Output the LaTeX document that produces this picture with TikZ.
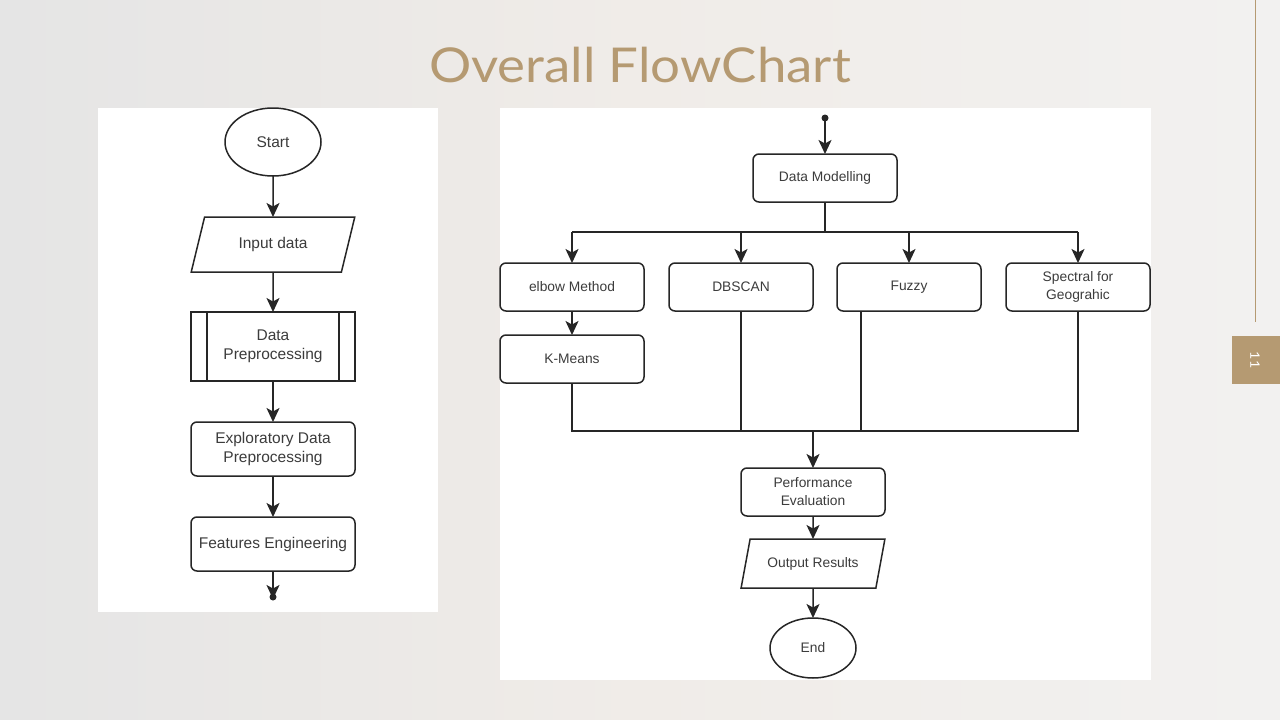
\documentclass[tikz,border=0pt]{standalone}
\usepackage{fontspec}
\setmainfont{Liberation Sans}
\newfontfamily\titlefont[FakeStretch=1.1]{Lato}
\usetikzlibrary{shapes.geometric,arrows.meta,calc}
\definecolor{tan}{HTML}{B59A72}
\definecolor{ink}{HTML}{262626}
\begin{document}
\begin{tikzpicture}[x=1pt,y=-1pt,
  every node/.style={inner sep=0pt,outer sep=0pt,text=ink!90,align=center},
  ln/.style={draw=ink,line width=1.5pt},
  arr/.style={draw=ink,line width=1.5pt,-{Stealth[length=14pt,width=13pt,inset=3.5pt]}},
  rbox/.style={draw=ink,line width=1.5pt,rounded corners=6pt,fill=white},
  oval/.style={ellipse,draw=ink,line width=1.5pt,fill=white},
  para/.style={trapezium,trapezium stretches=true,draw=ink,line width=1.5pt,fill=white},
  lfont/.style={font=\fontsize{15.5}{19.5}\selectfont},
  rfont/.style={font=\fontsize{13.8}{18}\selectfont}
]
\useasboundingbox (0,0) rectangle (1280,720);
% background
\shade[left color={rgb,255:red,229;green,229;blue,229}, right color={rgb,255:red,242;green,241;blue,240}, middle color={rgb,255:red,240;green,236;blue,232}] (0,0) rectangle (1280,720);
% title
\node[font=\titlefont\fontsize{48}{54}\selectfont,text=tan,anchor=base] (title) at (640,82) {Overall FlowChart};
% right deco
\draw[tan,line width=1pt] (1255,0) -- (1255,322);
\fill[tan] (1232,336) rectangle (1280,384);
\node[rotate=-90,text=white,font=\titlefont\fontsize{13}{15}\selectfont] (pg) at (1255,360) {11};
% panels
\fill[white] (98,108) rectangle (438,612);
\fill[white] (500,108) rectangle (1151,680);

% ---------- left flow ----------
\node[oval,lfont,minimum width=96pt,minimum height=68pt] (start) at (273,142) {Start};
\node[para,lfont,trapezium left angle=65,trapezium right angle=115,minimum width=164pt,minimum height=55pt] (input) at (273,244.5) {Input data};
\node[draw=ink,line width=1.5pt,fill=white,lfont,minimum width=164pt,minimum height=69pt,
  path picture={\draw[ink,line width=1.5pt] ([xshift=16pt]path picture bounding box.north west) -- ([xshift=16pt]path picture bounding box.south west);
  \draw[ink,line width=1.5pt] ([xshift=-16pt]path picture bounding box.north east) -- ([xshift=-16pt]path picture bounding box.south east);}] (prep) at (273,346.5) {Data\\Preprocessing};
\node[rbox,lfont,minimum width=164pt,minimum height=54pt] (eda) at (273,449) {Exploratory Data\\Preprocessing};
\node[rbox,lfont,minimum width=164pt,minimum height=54pt] (feat) at (273,544) {Features Engineering};
\coordinate (lend) at (273,597);

\draw[arr] (start) -- (input);
\draw[arr] (input) -- (prep);
\draw[arr] (prep) -- (eda);
\draw[arr] (eda) -- (feat);
\draw[arr] (feat) -- ([yshift=-2pt]lend);
\fill[ink] (lend) circle (3.5pt);

% ---------- right flow ----------
\coordinate (rtop) at (825,118);
\node[rbox,rfont,minimum width=144pt,minimum height=48pt] (dm) at (825,178) {Data Modelling};
\coordinate (jn) at (825,232);
\node[rbox,rfont,minimum width=144pt,minimum height=48pt] (elbow) at (572,287) {elbow Method};
\node[rbox,rfont,minimum width=144pt,minimum height=48pt] (dbscan) at (741,287) {DBSCAN};
\node[rbox,rfont,minimum width=144pt,minimum height=48pt] (fuzzy) at (909,287) {Fuzzy};
\node[rbox,rfont,minimum width=144pt,minimum height=48pt] (spec) at (1078,287) {Spectral for\\Geograhic};
\node[rbox,rfont,minimum width=144pt,minimum height=48pt] (kmeans) at (572,359) {K-Means};
\coordinate (bj) at (813,431);
\node[rbox,rfont,minimum width=144pt,minimum height=48pt] (perf) at (813,492) {Performance\\Evaluation};
\node[para,rfont,trapezium left angle=63,trapezium right angle=117,minimum width=144pt,minimum height=49pt] (outr) at (813,563.5) {Output Results};
\node[oval,rfont,minimum width=86pt,minimum height=60pt] (endn) at (813,648) {End};

\fill[ink] (rtop) circle (3.5pt);
\draw[arr] (rtop) -- (dm);
\draw[ln] (dm.south) -- (jn);
\draw[ln] (elbow.north |- jn) -- (spec.north |- jn);
\draw[arr] (jn -| elbow.north) -- (elbow.north);
\draw[arr] (jn -| dbscan.north) -- (dbscan.north);
\draw[arr] (jn -| fuzzy.north) -- (fuzzy.north);
\draw[arr] (jn -| spec.north) -- (spec.north);
\draw[arr] (elbow) -- (kmeans);
\draw[ln] (kmeans.south) |- (bj -| spec.south) -- (spec.south);
\draw[ln] (dbscan.south) -- (dbscan.south |- bj);
\draw[ln] ([xshift=-48pt]fuzzy.south) -- ([xshift=-48pt]fuzzy.south |- bj);
\draw[arr] (bj) -- (perf);
\draw[arr] (perf) -- (outr);
\draw[arr] (outr) -- (endn);
\end{tikzpicture}
\end{document}
